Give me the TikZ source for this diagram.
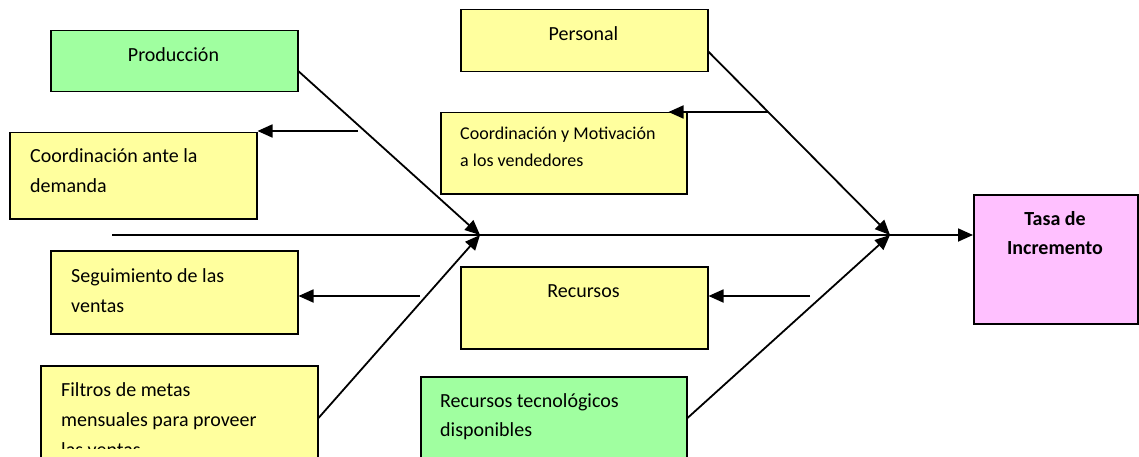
\documentclass[tikz,border=0pt]{standalone}
\usepackage{fontspec}
\setmainfont{Carlito}
\usetikzlibrary{arrows.meta}

\definecolor{verdeC}{RGB}{160,255,160}
\definecolor{amarilloC}{RGB}{255,255,158}
\definecolor{rosaC}{RGB}{255,192,255}

\tikzset{
  caja/.style={draw=black, line width=1.5pt, inner sep=0pt, anchor=north west},
  verde/.style={caja, fill=verdeC},
  amarilla/.style={caja, fill=amarilloC},
  rosa/.style={caja, fill=rosaC},
  txt/.style={anchor=base west, inner sep=0pt, font=\fontsize{20}{30}\selectfont},
  txtc/.style={txt, anchor=base},
  txtp/.style={txt, font=\fontsize{18}{27}\selectfont},
  flecha/.style={line width=1.8pt, -{Triangle[length=15pt,width=13pt]}}
}

\begin{document}
\begin{tikzpicture}[x=1pt,y=-1pt]
\useasboundingbox (0,0) rectangle (1139,457);
\clip (0,0) rectangle (1139,457);

% cajas
\node[verde, minimum width=247pt, minimum height=61pt] (prod) at (50,30) {};
\node[amarilla, minimum width=247pt, minimum height=86pt] (dem) at (9,132) {};
\node[amarilla, minimum width=247pt, minimum height=83pt] (seg) at (50,250) {};
\node[amarilla, minimum width=277pt, minimum height=120pt] (filt) at (40,365) {};
\node[amarilla, minimum width=247pt, minimum height=62pt] (pers) at (460,9) {};
\node[amarilla, minimum width=246pt, minimum height=81pt] (motiv) at (440,112) {};
\node[amarilla, minimum width=247pt, minimum height=82pt] (rec) at (460,266) {};
\node[verde, minimum width=266pt, minimum height=110pt] (rtec) at (420,376) {};
\node[rosa, minimum width=164pt, minimum height=129pt] (tasa) at (973,194) {};

% textos
\node[txtc] (tprod) at (173.5,62) {Producción};
\node[txt] (tdem1) at (30,163) {Coordinación ante la};
\node[txt] (tdem2) at (30,193) {demanda};
\node[txt] (tseg1) at (71,282) {Seguimiento de las};
\node[txt] (tseg2) at (71,312) {ventas};
\node[txt] (tfilt1) at (61,396) {Filtros de metas};
\node[txt] (tfilt2) at (61,426) {mensuales para proveer};
\begin{scope}
\clip (40,365) rectangle (317,448);
\node[txt] (tfilt3) at (61,456) {las ventas};
\end{scope}
\node[txtc] (tpers) at (583.5,41) {Personal};
\node[txtp] (tmot1) at (460,140) {Coordinación y Motivación};
\node[txtp] (tmot2) at (460,167) {a los vendedores};
\node[txtc] (trec) at (583.5,297) {Recursos};
\node[txt] (trtec1) at (440,407) {Recursos tecnológicos};
\node[txt] (trtec2) at (440,436) {disponibles};
\node[txtc, font=\fontsize{20}{29}\selectfont\bfseries] (ttasa1) at (1055,225) {Tasa de};
\node[txtc, font=\fontsize{20}{29}\selectfont\bfseries] (ttasa2) at (1055,254) {Incremento};

% espina
\coordinate (cola) at (112,235);
\coordinate (j1) at (480,235);
\coordinate (j2) at (890,235);
\coordinate (sdem) at (358,131);
\coordinate (sseg) at (420,296);
\coordinate (smot) at (768,112);
\coordinate (srec) at (810,296);

\draw[flecha] (cola) -- (tasa.west |- cola);
\draw[flecha] ([yshift=-10pt]prod.east) -- (j1);
\draw[flecha] ([yshift=-53pt]filt.north east) -- (j1);
\draw[flecha] ([yshift=-11pt]pers.east) -- (j2);
\draw[flecha] ([yshift=-42pt]rtec.north east) -- (j2);

\draw[flecha] (sdem) -- (sdem -| dem.east);
\draw[flecha] (sseg) -- (sseg -| seg.east);
\draw[flecha] (smot) -- ([xshift=-19pt]motiv.north east);
\draw[flecha] (srec) -- (srec -| rec.east);
\end{tikzpicture}
\end{document}
